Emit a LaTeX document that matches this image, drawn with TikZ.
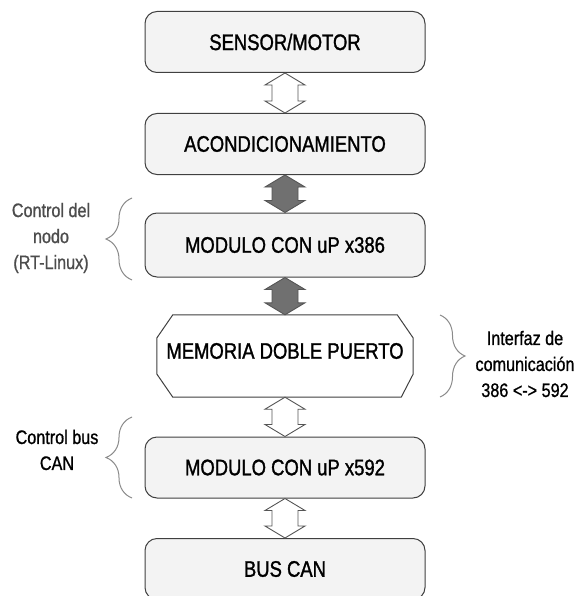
\documentclass[tikz,border=0pt]{standalone}
\usepackage{fontspec}
\setmainfont{Liberation Sans}[FakeStretch=0.83]
\newfontfamily\boxfont{Liberation Sans}[FakeStretch=0.82,FakeBold=1.3]
\newfontfamily\labelfont{Liberation Sans}[FakeStretch=0.83,FakeBold=0.9]
\usetikzlibrary{calc,decorations.pathreplacing}
\definecolor{boxline}{HTML}{404040}
\definecolor{boxfill}{HTML}{F3F3F3}
\definecolor{darkarrow}{HTML}{707070}
\definecolor{arrowline}{HTML}{555555}
\definecolor{bracegray}{HTML}{8A8A8A}
\newcommand\tbarrow[3]{%
  \draw[#1] (#2.south) -- ($(#2.south)+(20,12)$) -- ($(#2.south)+(13,12)$)
    -- ($(#3.north)+(13,-12)$) -- ($(#3.north)+(20,-12)$) -- (#3.north)
    -- ($(#3.north)+(-20,-12)$) -- ($(#3.north)+(-13,-12)$)
    -- ($(#2.south)+(-13,12)$) -- ($(#2.south)+(-20,12)$) -- cycle;}
\begin{document}
\begin{tikzpicture}[x=1pt,y=-1pt,
  box/.style={draw=boxline, line width=1pt, fill=boxfill, rounded corners=12pt,
    minimum width=280pt, minimum height=61pt, inner sep=0pt,
    font=\boxfont\fontsize{22.5}{26}\selectfont},
  boxtext/.style={inner sep=0pt, font=\boxfont\fontsize{22.5}{26}\selectfont},
  hexshape/.style={draw=none, minimum width=256pt, minimum height=82pt, inner sep=0pt},
  hexline/.style={draw=boxline, line width=1pt, fill=white},
  sidelabel/.style={align=center, inner sep=0pt, font=\labelfont\fontsize{19.5}{26}\selectfont},
  whitearrow/.style={draw=arrowline, line width=0.9pt, fill=white, line join=miter},
  grayarrow/.style={draw=arrowline, line width=0.9pt, fill=darkarrow, line join=miter},
  bracestyle/.style={draw=bracegray, line width=1pt, decorate}
]
\useasboundingbox (0,0) rectangle (581,596);

\node[box] (sm) at (285,42) {SENSOR/MOTOR};
\node[box] (acond) at (285,144) {ACONDICIONAMIENTO};
\node[box, minimum height=64pt] (m386) at (285,245) {MODULO CON uP x386};
\node[hexshape] (mem) at (285,356) {};
\draw[hexline] ($(mem.north west)+(16,0)$) -- ($(mem.north east)+(-16,0)$)
  -- ($(mem.east)+(0,-18)$) -- ($(mem.east)+(0,18)$)
  -- ($(mem.south east)+(-12,0)$) -- ($(mem.south west)+(16,0)$)
  -- ($(mem.west)+(0,18)$) -- ($(mem.west)+(0,-18)$) -- cycle;
\node[boxtext] (memtext) at ($(mem.center)+(0,-5)$) {MEMORIA DOBLE PUERTO};
\node[box] (m592) at (285,467.5) {MODULO CON uP x592};
\node[box] (bus) at (285,569) {BUS CAN};

\tbarrow{whitearrow}{sm}{acond}
\tbarrow{grayarrow}{acond}{m386}
\tbarrow{grayarrow}{m386}{mem}
\tbarrow{whitearrow}{mem}{m592}
\tbarrow{whitearrow}{m592}{bus}

\draw[bracestyle, decoration={brace, amplitude=26pt}] (132,280) -- (132,198);
\draw[bracestyle, decoration={brace, amplitude=25pt}] (440,315) -- (440,397);
\draw[bracestyle, decoration={brace, amplitude=26pt}] (132,498) -- (132,417);

\node[sidelabel, text=black!70] (lnodo) at (51,238) {Control del\\nodo\\(RT-Linux)};
\node[sidelabel] (lintf) at (525,364) {Interfaz de\\comunicación\\386 <-> 592};
\node[sidelabel] (lbus) at (57,450) {Control bus\\CAN};
\end{tikzpicture}
\end{document}
